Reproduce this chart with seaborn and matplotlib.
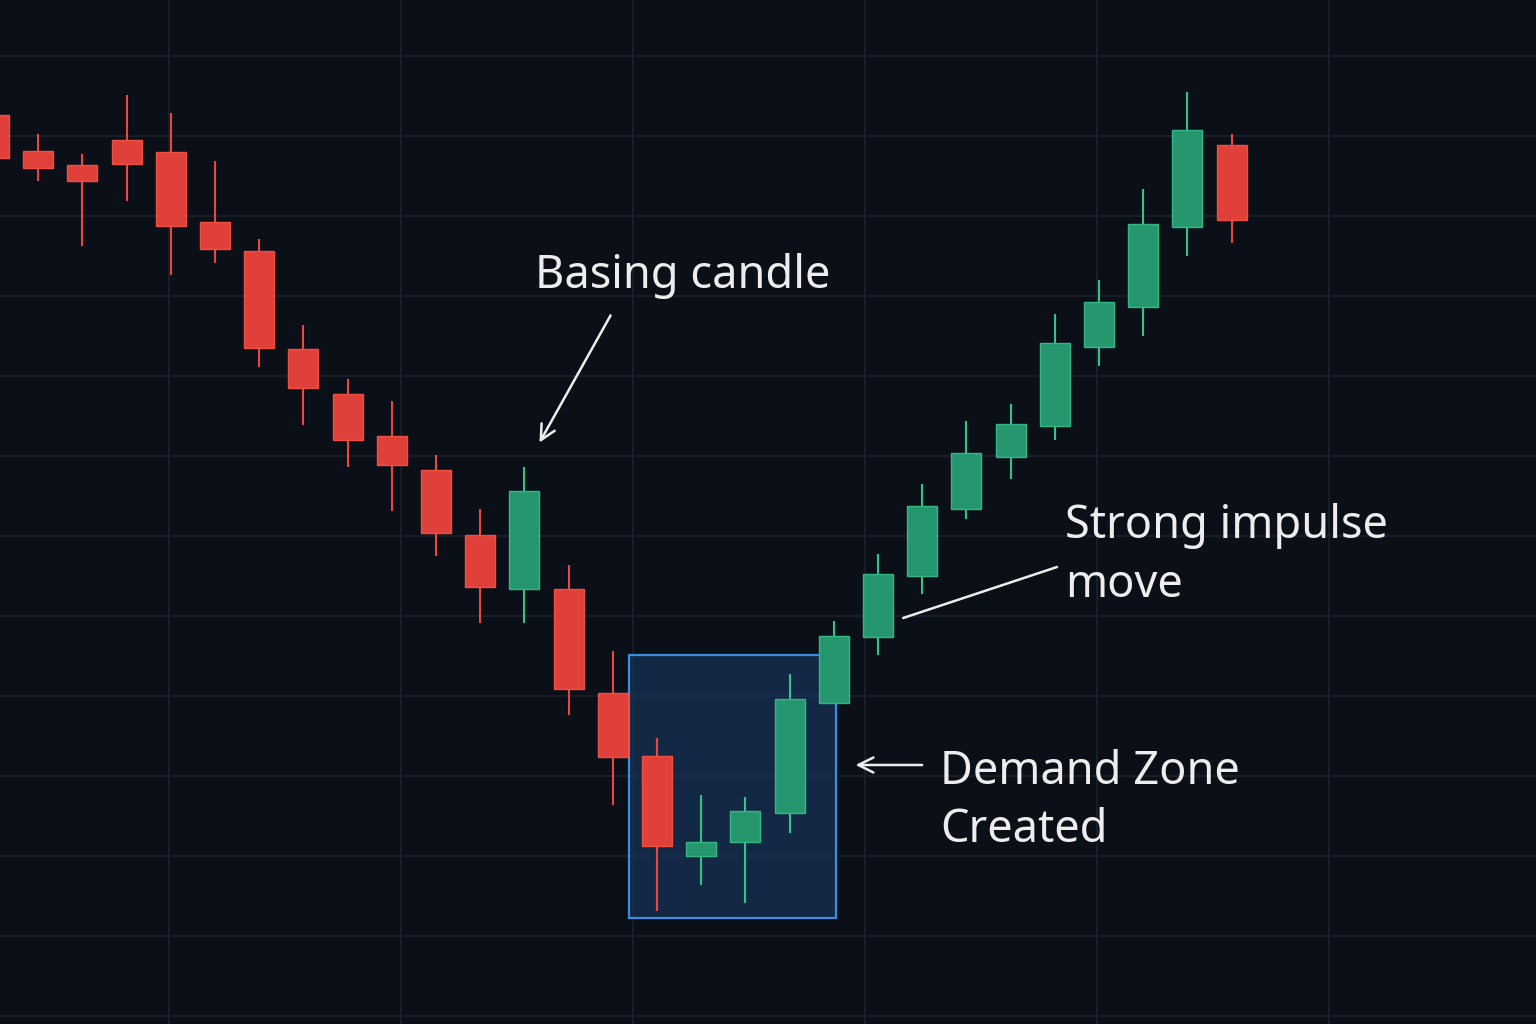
# Demand zone candlestick sketch
import numpy as np
import pandas as pd
import matplotlib
matplotlib.use("Agg")
import matplotlib.pyplot as plt
from matplotlib.patches import Rectangle
import seaborn as sns

# candle data (index = bar number)
opens  = [90.1, 86.5, 85.1, 87.6, 86.4, 79.4, 76.5, 66.7, 62.2, 58.0,
          54.6, 48.1, 42.7, 42.7, 32.3, 26.0, 16.0, 17.4, 20.3, 31.3,
          37.9, 44.0, 50.7, 55.9, 59.0, 66.9, 70.9, 78.9, 87.1]
highs  = [90.1, 88.2, 86.2, 92.1, 90.3, 85.5, 77.7, 69.1, 63.7, 61.5,
          56.1, 50.7, 54.9, 45.1, 36.5, 27.8, 22.1, 21.9, 34.2, 39.5,
          46.2, 53.2, 59.5, 61.2, 70.2, 73.6, 82.7, 92.4, 88.2]
lows   = [85.8, 83.5, 77.0, 81.5, 74.1, 75.3, 64.9, 59.1, 54.9, 50.5,
          46.0, 39.3, 39.3, 30.1, 21.1, 10.5, 13.1, 11.3, 18.3, 31.3,
          36.1, 42.2, 49.7, 53.7, 57.6, 65.0, 68.0, 76.0, 77.3]
closes = [85.8, 84.8, 83.5, 85.2, 79.0, 76.7, 66.8, 62.8, 57.6, 55.1,
          48.3, 42.9, 52.5, 32.7, 25.9, 17.0, 17.4, 20.5, 31.7, 38.0,
          44.2, 51.0, 56.3, 59.2, 67.3, 71.4, 79.2, 88.6, 79.6]

# demand zone bounds
zone_x = [14.37, 19.05]
zone_y = [9.8, 36.1]

df = pd.DataFrame({"open": opens, "high": highs, "low": lows, "close": closes})
df["bar"] = np.arange(len(df))
df["up"] = df["close"] >= df["open"]
df["bottom"] = df[["open", "close"]].min(axis=1)
df["height"] = (df["close"] - df["open"]).abs()

BG = "#0b0f17"
GRID = "#1b212c"
RED, RED_EDGE, RED_WICK = "#e0403a", "#f0503f", "#e8473f"
GREEN, GREEN_EDGE, GREEN_WICK = "#26966e", "#34b883", "#2fc489"
TXT = "#ededed"

sns.set_theme(style="dark", rc={"axes.facecolor": BG, "figure.facecolor": BG})
plt.rcParams["font.family"] = ["Noto Sans", "DejaVu Sans"]

fig = plt.figure(figsize=(15.36, 10.24), dpi=100)
ax = fig.add_axes([0, 0, 1, 1])
ax.set_facecolor(BG)

# grid
ax.set_xticks(np.arange(3.96, 35, 5.25))
ax.set_yticks(np.arange(0, 100, 8))
ax.grid(True, color=GRID, lw=1.2, zorder=0)
ax.set_axisbelow(True)
ax.tick_params(left=False, bottom=False, labelleft=False, labelbottom=False)
sns.despine(ax=ax, left=True, bottom=True)

# demand zone box
ax.add_patch(Rectangle((zone_x[0], zone_y[0]), zone_x[1] - zone_x[0], zone_y[1] - zone_y[0],
                       facecolor="#17335a", alpha=0.7, edgecolor="none", zorder=1))
ax.add_patch(Rectangle((zone_x[0], zone_y[0]), zone_x[1] - zone_x[0], zone_y[1] - zone_y[0],
                       facecolor="none", edgecolor="#3a8ee0", lw=1.6, zorder=1.5))

# wicks + bodies
for up, sub in df.groupby("up"):
    wick = GREEN_WICK if up else RED_WICK
    body = GREEN if up else RED
    edge = GREEN_EDGE if up else RED_EDGE
    ax.vlines(sub["bar"], sub["low"], sub["high"], colors=wick, lw=1.5, zorder=2)
    ax.bar(sub["bar"], sub["height"], bottom=sub["bottom"], width=0.68,
           color=body, edgecolor=edge, lw=1.0, zorder=3)

ax.set_xlim(0.136, 34.886)
ax.set_ylim(-0.8, 101.6)

# annotations
fs = 32.5
ax.text(12.24, 72.8, "Basing candle", color=TXT, fontsize=fs, va="baseline", ha="left")
ax.annotate("", xy=(12.31, 57.1), xytext=(13.98, 70.3),
            arrowprops=dict(arrowstyle="->,head_length=0.9,head_width=0.45", color=TXT, lw=1.8))

ax.text(24.23, 41.9, "Strong impulse\nmove", color=TXT, fontsize=fs, va="baseline", ha="left",
        linespacing=1.36)
ax.plot([20.57, 24.05], [39.8, 44.9], color=TXT, lw=1.8)

ax.text(21.40, 17.4, "Demand Zone\nCreated", color=TXT, fontsize=fs, va="baseline", ha="left",
        linespacing=1.34)
ax.annotate("", xy=(19.43, 25.1), xytext=(21.06, 25.1),
            arrowprops=dict(arrowstyle="->,head_length=0.9,head_width=0.45", color=TXT, lw=1.8))

fig.savefig("out.png", dpi=100, facecolor=BG)
